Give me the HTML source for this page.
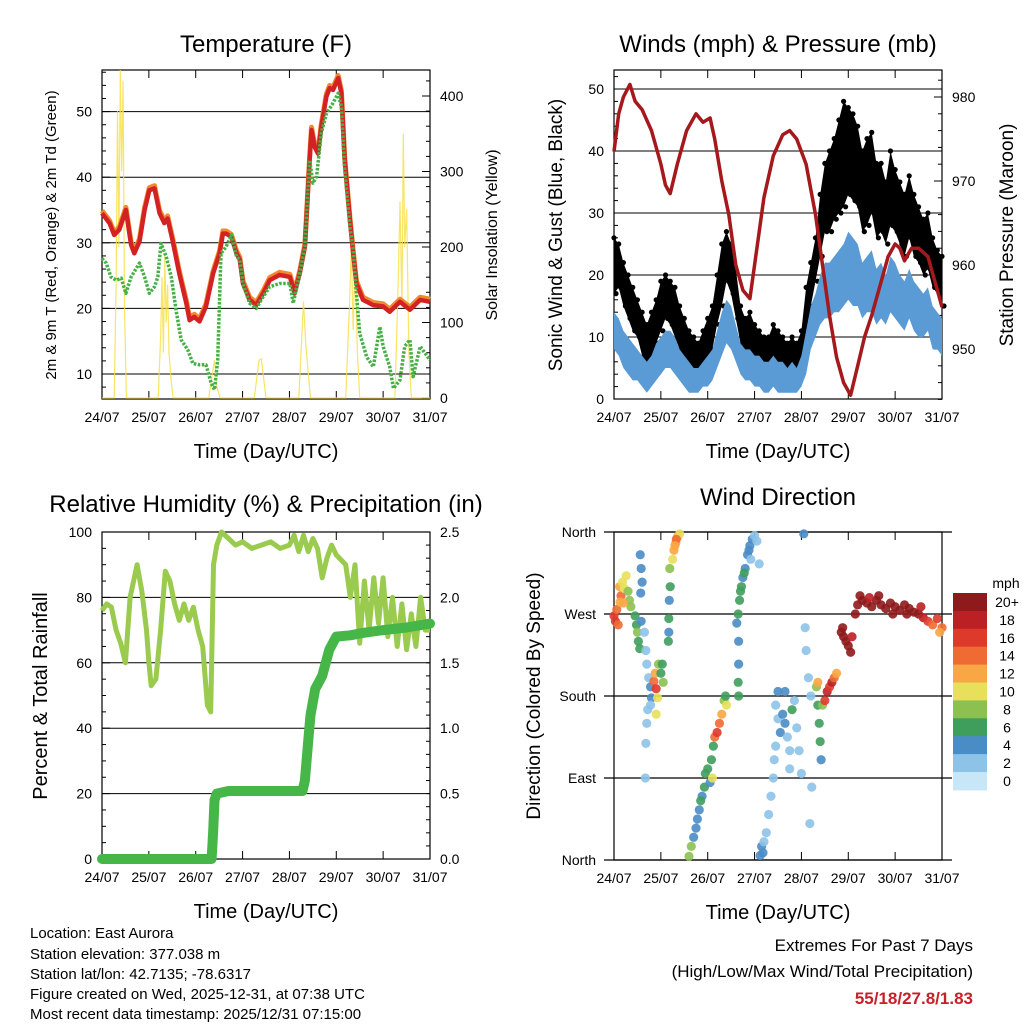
<!DOCTYPE html>
<html><head><meta charset="utf-8">
<style>
html,body{margin:0;padding:0;background:#fff;}
svg{display:block;font-family:"Liberation Sans",sans-serif;}
</style></head>
<body>
<svg id="chart" width="1024" height="1024" viewBox="0 0 1024 1024" xmlns="http://www.w3.org/2000/svg">
<rect width="1024" height="1024" fill="#fff"/>
<g id="g1"></g>
<g id="g2"></g>
<g id="g3"></g>
<g id="g4"></g>
<g id="g5"></g>
<g font-size="15" fill="#000">
<text x="30" y="938">Location: East Aurora</text>
<text x="30" y="959">Station elevation: 377.038 m</text>
<text x="30" y="979">Station lat/lon: 42.7135; -78.6317</text>
<text x="30" y="999">Figure created on Wed, 2025-12-31, at 07:38 UTC</text>
<text x="30" y="1019">Most recent data timestamp: 2025/12/31 07:15:00</text>
</g>
<g text-anchor="end" font-size="17">
<text x="973" y="951">Extremes For Past 7 Days</text>
<text x="973" y="977">(High/Low/Max Wind/Total Precipitation)</text>
<text x="973" y="1004" font-weight="bold" fill="#c8202a">55/18/27.8/1.83</text>
</g>
</svg>
<script>
const dayLabels=["24/07","25/07","26/07","27/07","28/07","29/07","30/07","31/07"];
// Temperature (F)
const tempDays=[0,0.16,0.26,0.37,0.51,0.62,0.69,0.80,0.91,1.01,1.12,1.23,1.33,1.40,1.51,1.65,1.80,1.87,1.97,2.08,2.22,2.37,2.51,2.58,2.65,2.76,2.87,2.94,3.01,3.15,3.29,3.44,3.58,3.79,4.01,4.11,4.22,4.33,4.43,4.47,4.54,4.61,4.68,4.79,4.86,4.93,5.04,5.11,5.18,5.29,5.36,5.43,5.57,5.79,6.00,6.14,6.36,6.57,6.79,7.0];
const temp2m=[34.5,33.0,31.2,32.0,35.0,29.7,28.4,30.2,35.0,38.0,38.3,34.5,33.0,33.7,30.2,25.3,20.8,18.2,18.7,18.0,20.3,25.3,28.4,31.4,31.4,30.9,28.4,27.4,23.8,21.3,20.5,22.3,24.3,25.1,24.8,22.3,25.3,29.4,42.6,47.2,44.6,43.6,47.7,52.3,53.6,53.3,55.1,52.8,42.6,33.5,28.4,23.8,21.3,20.5,20.3,19.5,21.0,19.8,21.3,21.0];
const tdDays=[0,0.09,0.19,0.30,0.41,0.51,0.62,0.80,0.91,1.01,1.12,1.19,1.26,1.37,1.48,1.58,1.69,1.83,1.94,2.08,2.22,2.33,2.40,2.47,2.54,2.65,2.76,2.87,2.94,3.01,3.15,3.29,3.44,3.58,3.79,4.01,4.08,4.22,4.33,4.43,4.50,4.58,4.68,4.79,4.93,5.04,5.11,5.18,5.29,5.36,5.43,5.50,5.65,5.79,5.93,6.00,6.14,6.22,6.36,6.46,6.57,6.64,6.79,7.0];
const tdVals=[27.6,26.9,24.8,24.3,24.6,22.3,24.8,26.9,24.8,22.3,23.3,24.8,29.9,27.9,24.8,19.8,15.2,13.7,11.6,11.4,11.4,8.6,7.6,12.1,28.4,29.4,31.2,27.9,27.4,23.8,20.8,20.0,21.8,23.3,23.8,23.8,20.8,25.3,29.4,42.6,39.1,40.1,46.7,49.7,51.3,52.8,50.7,41.1,32.5,28.9,22.3,16.2,12.6,11.1,17.2,14.2,11.1,7.8,9.1,14.2,15.2,9.6,14.2,12.1];
const solarDays=[0,0.26,0.30,0.33,0.36,0.39,0.42,0.45,0.48,0.52,1.20,1.25,1.28,1.31,1.34,1.37,1.40,1.43,1.48,1.52,2.28,2.35,2.40,2.45,2.52,3.25,3.35,3.40,3.50,4.20,4.30,4.35,4.45,5.20,5.28,5.32,5.36,5.40,5.45,5.50,6.25,6.32,6.36,6.40,6.43,6.46,6.50,6.55,6.60,7.0];
const solarVals=[0,0,150,380,200,440,300,420,120,0,0,80,160,60,190,100,150,60,20,0,0,30,50,15,0,0,50,52,0,0,128,70,0,0,120,200,90,190,60,0,0,150,260,120,350,200,250,60,0,0];
// Winds & pressure
const windStepDays=[0,0.1,0.2,0.3,0.4,0.5,0.6,0.7,0.8,0.9,1.0,1.1,1.2,1.3,1.4,1.5,1.6,1.7,1.8,1.9,2.0,2.1,2.2,2.3,2.4,2.5,2.6,2.7,2.8,2.9,3.0,3.1,3.2,3.3,3.4,3.5,3.6,3.7,3.8,3.9,4.0,4.1,4.2,4.3,4.4,4.5,4.6,4.7,4.8,4.9,5.0,5.1,5.2,5.3,5.4,5.5,5.6,5.7,5.8,5.9,6.0,6.1,6.2,6.3,6.4,6.5,6.6,6.7,6.8,6.9,7.0];
const gustHi=[26,25,22,20,18,16,14,12,14,16,19,20,19,18,15,13,11,10,9,11,13,15,20,25,27,25,21,15,13,14,12,11,10,10,12,11,10,9,10,9,11,18,22,26,33,38,40,42,45,48,47,46,44,40,42,43,38,38,35,40,37,35,33,36,33,31,29,30,26,24,23];
const gustLo=[17,18,15,13,11,10,7,5,6,9,11,13,12,10,8,6,4,3,3,5,6,8,12,15,19,17,13,9,7,7,5,5,4,4,5,4,4,3,4,3,5,9,15,19,23,27,27,29,30,31,33,32,31,27,28,30,26,27,25,28,27,25,23,26,23,22,20,21,18,17,15];
const windHi=[14,13,11,10,9,8,7,6,7,9,10,11,11,10,8,7,6,5,5,6,7,8,11,14,16,15,12,9,8,8,7,7,6,6,7,6,6,5,6,5,7,11,15,17,20,22,22,23,24,25,27,26,25,22,23,24,21,22,20,23,22,20,19,21,19,18,17,18,15,14,13];
const windLo=[8,7,5,4,3,3,2,1,2,3,4,5,5,4,3,2,1,1,1,2,2,3,5,7,9,8,6,4,3,3,2,2,1,1,2,1,1,1,1,1,2,4,8,10,12,13,13,14,14,15,16,15,15,13,14,14,12,13,12,14,13,12,11,13,11,10,10,11,8,8,7];
const pressDays=[0,0.1,0.2,0.34,0.45,0.6,0.8,1.0,1.1,1.2,1.35,1.55,1.75,1.9,2.05,2.15,2.3,2.45,2.6,2.75,2.9,3.05,3.2,3.4,3.6,3.75,3.9,4.1,4.3,4.45,4.6,4.75,4.9,5.05,5.2,5.35,5.5,5.7,5.85,6.0,6.1,6.2,6.35,6.5,6.7,6.85,7.0];
const pressVals=[973.5,978,980,981.5,979.5,978.5,976,972,969.5,968.5,972,976,978,977,977.5,975,970,966,960,957,956,962,968,973,975.5,976,975,972,966,960,954,949,946,944.5,948,951.5,954,958,961,962.5,962,960.5,962,962,961,958,955];
// Humidity & precipitation
const rhDays=[0,0.1,0.2,0.3,0.4,0.5,0.6,0.75,0.85,0.95,1.0,1.05,1.15,1.25,1.35,1.45,1.55,1.65,1.75,1.85,1.95,2.05,2.15,2.25,2.32,2.38,2.45,2.55,2.7,2.85,3.0,3.2,3.4,3.6,3.8,4.0,4.1,4.2,4.3,4.4,4.5,4.6,4.7,4.8,4.9,5.0,5.2,5.3,5.4,5.5,5.6,5.7,5.8,5.9,6.0,6.1,6.2,6.3,6.4,6.5,6.6,6.7,6.8,6.9,7.0];
const rhVals=[76,78,77,70,66,60,80,90,82,70,60,53,55,70,88,85,78,73,78,73,77,70,65,47,45,90,96,100,98,96,97,95,96,97,95,96,99,94,99,94,98,95,86,92,96,93,90,80,90,66,85,70,86,72,86,68,80,65,78,64,75,65,80,70,70];
const rainDays=[0,2.34,2.37,2.40,2.45,2.7,4.28,4.33,4.4,4.45,4.55,4.7,4.85,5.0,5.3,5.6,6.0,6.5,7.0];
const rainVals=[0,0,0.2,0.45,0.5,0.52,0.52,0.6,0.9,1.1,1.3,1.4,1.6,1.7,1.71,1.73,1.75,1.77,1.8];
// Wind direction
const dirDays=[0.0,0.03,0.06,0.09,0.12,0.15,0.18,0.22,0.26,0.3,0.33,0.36,0.13,0.2,0.45,0.48,0.5,0.52,0.55,0.58,0.56,0.58,0.6,0.57,0.65,0.68,0.7,0.74,0.78,0.8,0.78,0.72,0.7,0.68,0.67,0.85,0.9,0.88,0.95,1.0,1.03,1.05,0.93,0.9,1.16,1.17,1.18,1.2,1.19,1.17,1.25,1.28,1.32,1.36,1.4,1.33,1.3,1.6,1.65,1.7,1.75,1.78,1.82,1.88,1.93,1.95,2.0,2.05,2.08,2.12,2.15,2.2,2.25,2.3,2.35,2.38,2.4,1.85,2.1,2.62,2.65,2.68,2.72,2.75,2.8,2.85,2.9,2.95,3.0,2.88,2.7,2.78,2.92,3.05,3.1,2.66,2.66,2.65,2.66,3.12,3.15,3.18,3.2,3.25,3.3,3.35,3.4,3.42,3.45,3.45,3.5,3.55,3.6,3.65,3.7,3.75,3.8,3.85,3.9,3.5,3.95,4.0,3.75,3.65,4.05,4.08,4.1,4.15,4.2,4.22,4.18,4.32,4.35,4.38,4.4,4.42,4.45,4.35,4.5,4.55,4.6,4.65,4.7,4.75,4.85,4.9,4.95,5.0,5.05,4.88,5.08,5.15,5.2,5.3,5.4,5.5,5.6,5.7,5.8,5.9,6.0,6.1,6.2,6.3,6.4,6.5,6.6,6.7,6.8,6.9,7.0,5.25,5.45,5.65,5.95,6.25,6.55,6.95];
const dirDegs=[268,262,275,258,300,290,305,298,312,295,285,278,283,282,268,258,250,240,232,262,335,320,305,293,250,230,215,200,190,178,170,165,150,128,90,196,188,205,215,205,215,195,178,160,240,265,285,300,320,250,330,340,348,355,358,352,345,4,15,25,35,45,55,70,80,95,100,85,110,125,135,140,150,160,175,180,170,65,90,260,270,285,300,310,320,335,345,352,356,340,295,315,330,350,325,240,215,195,180,5,15,8,20,30,50,70,90,110,125,170,155,140,160,150,135,120,165,175,145,185,120,95,100,185,358,255,230,200,180,80,40,190,170,150,130,110,170,195,175,185,190,195,200,205,250,245,240,235,228,255,245,270,280,285,282,278,285,280,276,282,278,274,280,276,272,270,266,262,258,265,255,290,288,290,270,270,278,250];
const dirSpeeds=[15,16,14,14,12,13,10,10,9,8,7,8,12,11,6,6,7,6,6,4,4,4,4,4,2,2,2,2,4,4,2,2,2,2,2,14,16,12,8,6,6,8,10,10,6,6,4,6,8,4,10,12,12,12,10,14,12,8,8,4,4,4,4,4,6,6,6,4,6,6,14,16,14,12,8,6,10,6,10,4,6,6,6,4,4,4,4,4,2,4,6,6,2,2,2,4,4,6,6,4,4,4,2,2,2,2,2,2,2,2,2,4,4,4,2,2,6,2,2,4,2,2,2,4,4,2,2,2,2,2,2,8,6,6,6,4,8,12,16,18,16,18,14,12,20,20,20,20,20,20,18,20,20,20,20,20,20,20,20,20,20,20,20,20,20,20,18,16,14,16,14,20,18,20,20,20,18,12];
const speedLabels=["20+","18","16","14","12","10","8","6","4","2","0"];
const speedColors=["#8e1a1c","#bb2024","#de3a2c","#f06a34","#f9a645","#e8e05a","#8cc152","#3f9e5c","#4a8cc6","#8ec3e8","#c7e6f8"];

const NS="http://www.w3.org/2000/svg";
function mk(parent,tag,attrs,name,inter){
  const el=document.createElementNS(NS,tag);
  for(const k in attrs) el.setAttribute(k,attrs[k]);
  
  
  parent.appendChild(el);return el;
}
function txt(parent,x,y,s,size,anchor,name,extra){
  const a=Object.assign({x:x,y:y,'font-size':size,'text-anchor':anchor||'middle',fill:'#000'},extra||{});
  const t=mk(parent,'text',a,name,false);t.textContent=s;return t;
}
function panel(g,L,R,T,B,title,titleY){
  const sx=d=>L+d*(R-L)/7;
  mk(g,'rect',{x:L,y:T,width:R-L,height:B-T,fill:'none',stroke:'#000','stroke-width':1.2},'plot-frame',false);
  for(let i=0;i<dayLabels.length;i++){
    const x=sx(i);
    mk(g,'line',{x1:x,y1:B,x2:x,y2:B-8,stroke:'#000','stroke-width':1},'x-tick',false);
    mk(g,'line',{x1:x,y1:T,x2:x,y2:T+8,stroke:'#000','stroke-width':1},'x-tick-top',false);
    txt(g,x,B+23,dayLabels[i],14,'middle','x-tick-label');
  }
  txt(g,(L+R)/2,B+59,'Time (Day/UTC)',20,'middle','x-axis-title');
  txt(g,(L+R)/2,titleY,title,24,'middle','panel-title');
  return sx;
}
function path(g,xs,ys,attrs,name){
  let d='';for(let i=0;i<xs.length;i++) d+=(i?'L':'M')+xs[i].toFixed(1)+','+ys[i].toFixed(1);
  return mk(g,'path',Object.assign({d:d,fill:'none'},attrs),name,false);
}
// ---------- Panel 1 ----------
(function(){
  const g=document.getElementById('g1');
  const L=102,R=430,T=70,B=399;
  const yT=v=>374-(v-10)*6.56, yS=v=>398-v*0.755;
  [10,20,30,40,50].forEach(v=>{
    mk(g,'line',{x1:L,x2:R,y1:yT(v),y2:yT(v),stroke:'#000','stroke-width':1},'gridline',false);
    txt(g,L-10,yT(v)+5,String(v),14,'end','y-tick-label');
  });
  for(let v=8;v<=56;v+=2) mk(g,'line',{x1:L,x2:L+(v%10==0?8:4),y1:yT(v),y2:yT(v),stroke:'#000'},'y-minor-tick',false);
  [0,100,200,300,400].forEach(v=>txt(g,R+10,yS(v)+5,String(v),14,'start','right-tick-label'));
  for(let v=0;v<=420;v+=20) mk(g,'line',{x1:R,x2:R-(v%100==0?8:4),y1:yS(v),y2:yS(v),stroke:'#000'},'right-minor-tick',false);
  const sx=panel(g,L,R,T,B,'Temperature (F)',52);
  path(g,solarDays.map(sx),solarVals.map(v=>Math.max(T,yS(v))),{stroke:'#f7df4a','stroke-width':1.2,'stroke-opacity':0.85},'solar-insolation-line');
  path(g,tempDays.map(sx),temp2m.map(v=>yT(v+0.4)),{stroke:'#f08a30','stroke-width':5,'stroke-linejoin':'round'},'temp-9m-line');
  path(g,tempDays.map(sx),temp2m.map(yT),{stroke:'#d42224','stroke-width':4.5,'stroke-linejoin':'round'},'temp-2m-line');
  path(g,tdDays.map(sx),tdVals.map(yT),{stroke:'#45b046','stroke-width':3.5,'stroke-dasharray':'2.5 1.5','stroke-linejoin':'round'},'dewpoint-line');
  txt(g,0,0,'2m & 9m T (Red, Orange) & 2m Td (Green)',15,'middle','left-axis-title',{transform:'translate(56,235) rotate(-90)'});
  txt(g,0,0,'Solar Insolation (Yellow)',16,'middle','right-axis-title',{transform:'translate(497,235) rotate(-90)'});
})();
// ---------- Panel 2 ----------
(function(){
  const g=document.getElementById('g2');
  const L=614,R=942,T=70,B=399;
  const yW=v=>399-v*6.2, yP=v=>349-(v-950)*8.4;
  [10,20,30,40,50].forEach(v=>mk(g,'line',{x1:L,x2:R,y1:yW(v),y2:yW(v),stroke:'#000','stroke-width':1},'gridline',false));
  [0,10,20,30,40,50].forEach(v=>txt(g,L-10,yW(v)+5,String(v),14,'end','y-tick-label'));
  for(let v=0;v<=52;v+=2) mk(g,'line',{x1:L,x2:L+(v%10==0?8:4),y1:yW(v),y2:yW(v),stroke:'#000'},'y-minor-tick',false);
  [950,960,970,980].forEach(v=>txt(g,R+10,yP(v)+5,String(v),14,'start','right-tick-label'));
  for(let v=944;v<=982;v+=2) mk(g,'line',{x1:R,x2:R-(v%10==0?8:4),y1:yP(v),y2:yP(v),stroke:'#000'},'right-minor-tick',false);
  const sx=panel(g,L,R,T,B,'Winds (mph) & Pressure (mb)',52);
  const xs=windStepDays.map(sx);
  let d='';xs.forEach((x,i)=>d+=(i?'L':'M')+x.toFixed(1)+','+yW(gustHi[i]).toFixed(1));
  for(let i=xs.length-1;i>=0;i--) d+='L'+xs[i].toFixed(1)+','+yW(gustLo[i]).toFixed(1);
  mk(g,'path',{d:d+'Z',fill:'#000'},'gust-band',false);
  xs.forEach((x,i)=>{
    mk(g,'circle',{cx:x,cy:yW(gustHi[i]),r:2.6,fill:'#000'},'gust-point',false);
    mk(g,'circle',{cx:x+2,cy:yW(gustLo[i]),r:2.6,fill:'#000'},'gust-point',false);
  });
  let d2='';xs.forEach((x,i)=>d2+=(i?'L':'M')+x.toFixed(1)+','+yW(windHi[i]).toFixed(1));
  for(let i=xs.length-1;i>=0;i--) d2+='L'+xs[i].toFixed(1)+','+yW(windLo[i]).toFixed(1);
  mk(g,'path',{d:d2+'Z',fill:'#5a9bd5'},'wind-band',false);
  path(g,pressDays.map(sx),pressVals.map(yP),{stroke:'#a5181c','stroke-width':3.5,'stroke-linejoin':'round'},'pressure-line');
  txt(g,0,0,'Sonic Wind & Gust (Blue, Black)',19,'middle','left-axis-title',{transform:'translate(562,235) rotate(-90)'});
  txt(g,0,0,'Station Pressure (Maroon)',19,'middle','right-axis-title',{transform:'translate(1013,235) rotate(-90)'});
})();
// ---------- Panel 3 ----------
(function(){
  const g=document.getElementById('g3');
  const L=102,R=430,T=532,B=859;
  const yR=v=>859-v*3.27, yP=v=>859-v*130.8;
  [20,40,60,80].forEach(v=>mk(g,'line',{x1:L,x2:R,y1:yR(v),y2:yR(v),stroke:'#000','stroke-width':1},'gridline',false));
  [0,20,40,60,80,100].forEach(v=>txt(g,L-10,yR(v)+5,String(v),14,'end','y-tick-label'));
  for(let v=0;v<=100;v+=5) mk(g,'line',{x1:L,x2:L+(v%20==0?8:4),y1:yR(v),y2:yR(v),stroke:'#000'},'y-minor-tick',false);
  ['0.0','0.5','1.0','1.5','2.0','2.5'].forEach((s,i)=>txt(g,R+10,yP(i*0.5)+5,s,14,'start','right-tick-label'));
  for(let v=0;v<=2.5;v+=0.1) mk(g,'line',{x1:R,x2:R-4,y1:yP(v),y2:yP(v),stroke:'#000'},'right-minor-tick',false);
  const sx=panel(g,L,R,T,B,'Relative Humidity (%) & Precipitation (in)',512);
  path(g,rhDays.map(sx),rhVals.map(yR),{stroke:'#9acb4e','stroke-width':5,'stroke-linejoin':'round'},'humidity-line');
  path(g,rainDays.map(sx),rainVals.map(yP),{stroke:'#46b649','stroke-width':10,'stroke-linejoin':'round','stroke-linecap':'round'},'precip-line');
  txt(g,0,0,'Percent & Total Rainfall',20,'middle','left-axis-title',{transform:'translate(47,696) rotate(-90)'});
})();
// ---------- Panel 4 ----------
(function(){
  const g=document.getElementById('g4');
  const L=614,R=942,T=532,B=860;
  const yD=v=>B-v/360*(B-T);
  const names=['North','East','South','West','North'];
  [0,90,180,270,360].forEach((v,i)=>{
    mk(g,'line',{x1:L-10,x2:R+10,y1:yD(v),y2:yD(v),stroke:'#000','stroke-width':1.2},'gridline',false);
    txt(g,L-18,yD(v)+5,names[i],14,'end','y-tick-label');
  });
  const sx=panel(g,L,R,T,B,'Wind Direction',505);
  for(let i=0;i<dirDays.length;i++){
    const s=dirSpeeds[i];
    const idx=Math.max(0,Math.min(10,10-Math.round(s/2)));
    mk(g,'circle',{cx:sx(dirDays[i]),cy:yD(dirDegs[i]),r:4.6,fill:speedColors[idx],'fill-opacity':0.9},'direction-point',false);
  }
  txt(g,0,0,'Direction (Colored By Speed)',19,'middle','left-axis-title',{transform:'translate(540,696) rotate(-90)'});
})();
// ---------- Colorbar ----------
(function(){
  const g=document.getElementById('g5');
  const x=953,y0=593,h=17.9;
  txt(g,1006,588,'mph',14,'middle','colorbar-title');
  speedLabels.forEach((s,i)=>{
    mk(g,'rect',{x:x,y:y0+i*h,width:34,height:h+0.5,fill:speedColors[i]},'colorbar-swatch',false);
    txt(g,1007,y0+i*h+h/2+5,s,14,'middle','colorbar-label');
  });
})();
</script>
</body></html>
